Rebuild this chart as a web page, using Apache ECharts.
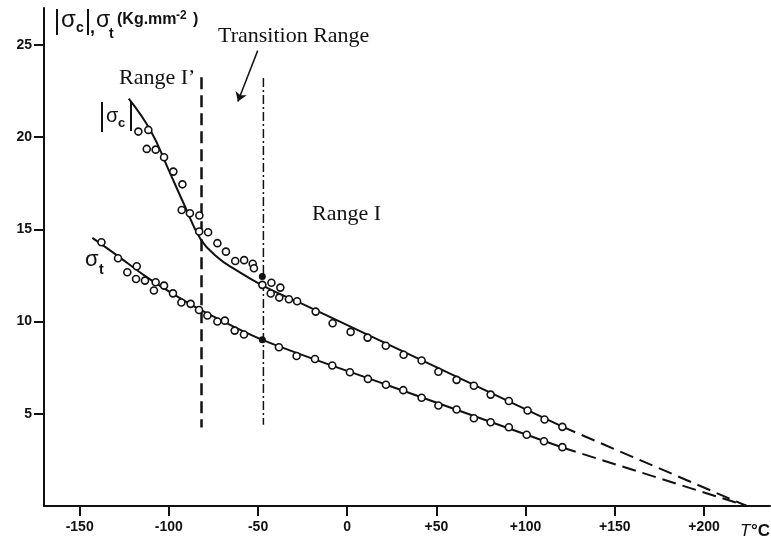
<!DOCTYPE html>
<html>
<head>
<meta charset="utf-8">
<script src="https://cdn.jsdelivr.net/npm/echarts@6/dist/echarts.min.js"></script>
<style>
html,body{margin:0;padding:0;background:#fff;}
#chart{width:771px;height:546px;}
</style>
</head>
<body>
<div id="chart"></div>
<script>
// ---- data (T in °C, stress in Kg.mm^-2) ----
const xTickValues = [-150, -100, -50, 0, 50, 100, 150, 200];
const yTickValues = [5, 10, 15, 20, 25];

// |sigma_c| fitted curve (range I' + transition), then straight part (range I)
const sigmaCCurve = [[-122.5,22.09],[-110.2,20.35],[-100.7,18.35],[-91.7,16.40],[-82.1,14.45],[-72.6,13.47],[-63.6,12.87],[-47.4,11.95],[-26.1,11.0]];
const sigmaCStraight = [[-26.1,11.0],[120.6,4.30]];
const sigmaCExtrap = [[120.6,4.30],[224,0]];

// sigma_t fitted line
const sigmaTLine = [[-142.9,14.54],[-128.5,13.55],[-113,12.45],[-97.7,11.5],[-82.2,10.63],[-47.6,9.01],[21.5,6.59],[120.6,3.17]];
const sigmaTExtrap = [[120.6,3.17],[224,0]];

// measured points |sigma_c|
const sigmaCPoints = [[-117.1,20.30],[-111.5,20.39],[-112.4,19.36],[-107.4,19.32],[-102.7,18.91],[-97.5,18.13],[-92.4,17.44],[-92.8,16.05],[-88.2,15.87],[-82.9,15.75],[-83.0,14.88],[-78.0,14.84],[-72.8,14.25],[-68.0,13.79],[-62.8,13.28],[-57.8,13.33],[-53.0,13.13],[-52.3,12.89],[-47.6,11.99],[-42.5,12.10],[-37.5,11.84],[-42.9,11.52],[-38.1,11.30],[-32.7,11.21],[-28.1,11.10],[-17.7,10.54],[-8.2,9.91],[1.9,9.44],[11.4,9.13],[21.6,8.69],[31.6,8.20],[41.7,7.89],[51.1,7.28],[61.3,6.84],[71.0,6.52],[80.4,6.04],[90.6,5.69],[101.1,5.18],[110.6,4.69],[120.6,4.29]];
// measured points sigma_t
const sigmaTPoints = [[-137.8,14.30],[-128.5,13.43],[-118.0,13.00],[-123.3,12.67],[-118.4,12.31],[-113.4,12.22],[-107.4,12.13],[-108.4,11.68],[-102.7,11.95],[-97.7,11.53],[-93.0,11.03],[-87.8,10.96],[-83.1,10.63],[-78.4,10.33],[-72.8,10.0],[-68.6,10.05],[-63.1,9.51],[-57.9,9.30],[-38.3,8.61],[-28.4,8.13],[-18.1,7.97],[-8.4,7.62],[1.5,7.25],[11.6,6.89],[21.7,6.57],[31.4,6.28],[41.7,5.87],[51.1,5.45],[61.3,5.23],[71.0,4.76],[80.4,4.54],[90.6,4.27],[100.6,3.86],[110.3,3.51],[120.6,3.19]];
// filled points at the transition boundary
const boundaryPoints = [[-47.6,12.44],[-47.6,9.01]];

// range boundaries
const boundaryI1 = [[-81.7,23.25],[-81.7,4.25]];
const boundaryTr = [[-47.0,23.2],[-47.0,4.4]];
const arrowCoords = [[-50.2,24.69],[-61.3,21.93]];

const INK = '#111';
const chart = echarts.init(document.getElementById('chart'), null, {renderer:'canvas'});

function lineSeries(data, opts) {
  return Object.assign({
    type: 'line', data: data, symbol: 'none', silent: true, animation: false,
    lineStyle: {color: INK, width: 2}
  }, opts || {});
}
const circleStyle = {color: '#fff', borderColor: INK, borderWidth: 1.6, opacity: 1};

const SANS = 'Liberation Sans, Arial, sans-serif';
const SERIF = 'Liberation Serif, Times New Roman, serif';

function txt(text, x, y, font, size, weight, extra) {
  return {type:'text', x:x, y:y, silent:true, style: {
    text:text, fill:INK, font: (extra && extra.italic ? 'italic ' : '') + (weight||'normal') + ' ' + size + 'px ' + font,
    verticalAlign:'middle', align:'left'
  }};
}
function bar(x, y1, y2, w) {
  return {type:'line', silent:true, shape:{x1:x,y1:y1,x2:x,y2:y2}, style:{stroke:INK, lineWidth:w||2}};
}

chart.setOption({
  backgroundColor: '#fff',
  animation: false,
  grid: {left: 44, right: 1, top: 8, bottom: 40, containLabel: false},
  xAxis: {
    type: 'value', min: -170, max: 237,
    axisLine: {show: true, onZero: false, lineStyle: {color: INK, width: 2}},
    axisTick: {show: true, customValues: xTickValues, length: 10, inside: false, lineStyle: {color: INK, width: 2}},
    axisLabel: {customValues: xTickValues, margin: 14, color: INK, fontFamily: SANS, fontSize: 14, fontWeight: 'bold',
      formatter: function(v){ return v > 0 ? '+' + v : String(v); }},
    splitLine: {show: false}
  },
  yAxis: {
    type: 'value', min: 0, max: 27,
    axisLine: {show: true, onZero: false, lineStyle: {color: INK, width: 2}},
    axisTick: {show: true, customValues: yTickValues, length: 10, lineStyle: {color: INK, width: 2}},
    axisLabel: {customValues: yTickValues, margin: 12, color: INK, fontFamily: SANS, fontSize: 14, fontWeight: 'bold'},
    splitLine: {show: false}
  },
  series: [
    lineSeries(sigmaCCurve, {smooth: 0.45}),
    lineSeries(sigmaCStraight),
    lineSeries(sigmaCExtrap, {lineStyle: {color: INK, width: 2, type: [14, 7]}}),
    lineSeries(sigmaTLine, {smooth: 0.3}),
    lineSeries(sigmaTExtrap, {lineStyle: {color: INK, width: 2, type: [14, 7]}}),
    lineSeries(boundaryI1, {lineStyle: {color: INK, width: 2.5, type: [12, 6]}}),
    lineSeries(boundaryTr, {lineStyle: {color: INK, width: 1.5, type: [9, 3, 2, 3]}}),
    {type: 'scatter', data: sigmaCPoints, symbol: 'circle', symbolSize: 7, itemStyle: circleStyle, silent: true, z: 5},
    {type: 'scatter', data: sigmaTPoints, symbol: 'circle', symbolSize: 7, itemStyle: circleStyle, silent: true, z: 5},
    {type: 'scatter', data: boundaryPoints, symbol: 'circle', symbolSize: 7, itemStyle: {color: INK, opacity: 1}, silent: true, z: 6},
    {type: 'lines', coordinateSystem: 'cartesian2d', silent: true, symbol: ['none', 'arrow'], symbolSize: 9,
      lineStyle: {color: INK, width: 1.5, opacity: 1}, data: [{coords: arrowCoords}]}
  ],
  graphic: [
    // axis title |σc|, σt (Kg.mm-2)
    bar(57, 9, 35, 2), txt('σ', 61, 20, SANS, 24, 'normal'), txt('c', 76, 28, SANS, 14, 'bold'), bar(88, 9, 35, 2),
    txt(',', 90, 28, SANS, 18, 'bold'), txt('σ', 96, 21, SANS, 23, 'normal'), txt('t', 109, 34, SANS, 14, 'bold'),
    txt('(Kg.mm', 117, 19.5, SANS, 16, 'bold'), txt('-2', 176, 16, SANS, 12, 'bold'), txt(')', 193, 19.5, SANS, 16, 'bold'),
    // series labels
    bar(102, 102, 132, 2), txt('σ', 106, 116, SANS, 20, 'normal'), txt('c', 118, 123, SANS, 13, 'bold'), bar(131, 101, 131, 2),
    txt('σ', 85, 260, SANS, 22, 'normal'), txt('t', 99, 270, SANS, 14, 'bold'),
    // range annotations
    txt('Transition Range', 218, 36, SERIF, 22, 'normal'),
    txt('Range I’', 119, 78, SERIF, 22, 'normal'),
    txt('Range I', 312, 214, SERIF, 22, 'normal'),
    // x axis unit
    txt('T', 740, 531, SANS, 17, 'normal', {italic: true}),
    txt('°C', 751, 531, SANS, 17, 'bold')
  ]
});
</script>
</body>
</html>
